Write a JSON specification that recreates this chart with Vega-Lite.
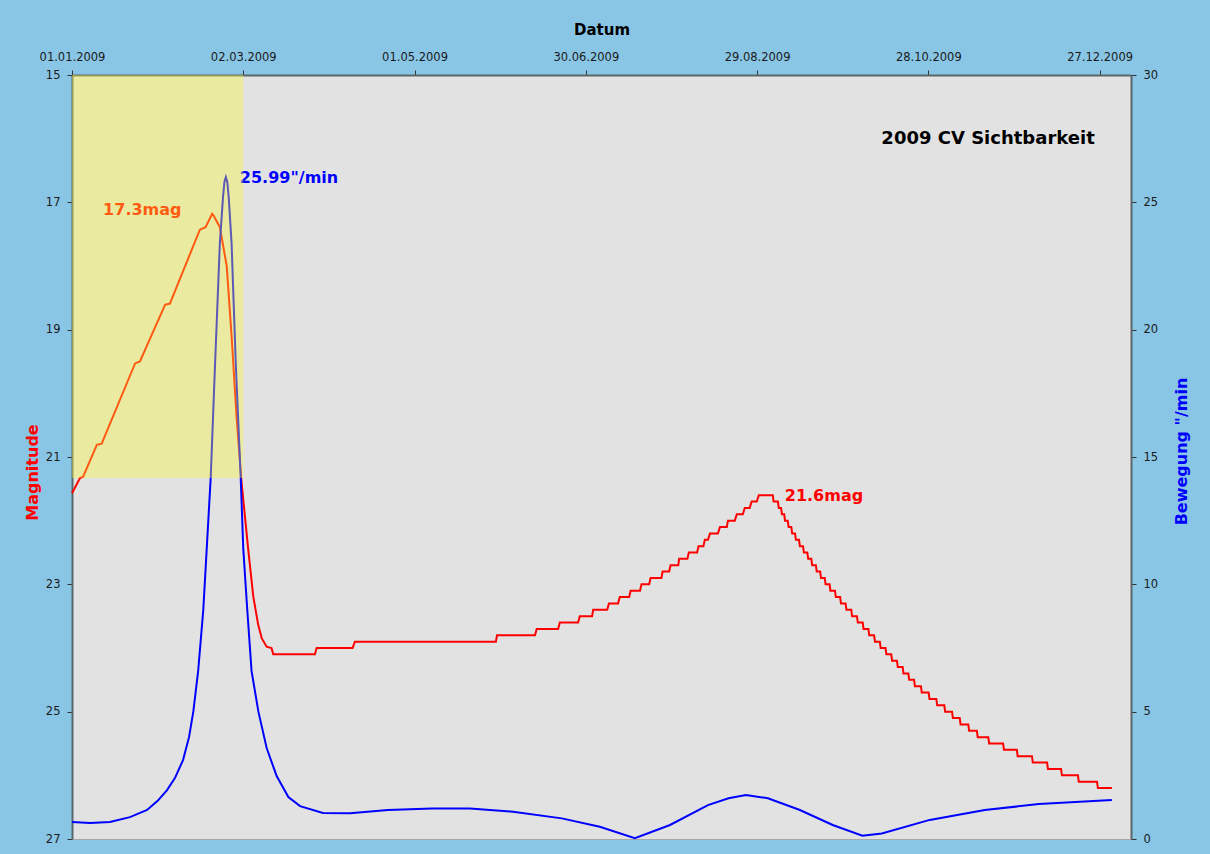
{
  "$schema": "https://vega.github.io/schema/vega-lite/v6.json",
  "width": 1059,
  "height": 764,
  "autosize": {"type": "none"},
  "padding": {"left": 72, "top": 75, "right": 79, "bottom": 15},
  "background": "#89c6e5",
  "config": {
    "view": {"fill": "#e2e2e2", "stroke": "#a8a8a8", "strokeWidth": 1},
    "axis": {
      "grid": false,
      "domainColor": "#5a666b",
      "domainWidth": 2,
      "tickColor": "#333333",
      "tickSize": 5,
      "labelColor": "#1a1a1a",
      "labelFont": "DejaVu Sans",
      "labelFontSize": 11.5,
      "titleFont": "DejaVu Sans",
      "titleFontWeight": "bold"
    }
  },
  "datasets": {
    "mag": [
      {"day": 0, "mag": 21.57}, {"day": 2.8, "mag": 21.33}, {"day": 3.9, "mag": 21.31},
      {"day": 8.7, "mag": 20.81}, {"day": 10.4, "mag": 20.79}, {"day": 22.1, "mag": 19.53},
      {"day": 23.8, "mag": 19.5}, {"day": 32.6, "mag": 18.61}, {"day": 34.3, "mag": 18.59},
      {"day": 44.8, "mag": 17.43}, {"day": 46.8, "mag": 17.39}, {"day": 49.1, "mag": 17.18},
      {"day": 49.5, "mag": 17.2}, {"day": 51.8, "mag": 17.39}, {"day": 54.2, "mag": 18.0},
      {"day": 55.9, "mag": 19.09}, {"day": 57.7, "mag": 20.4}, {"day": 59.4, "mag": 21.4},
      {"day": 60.0, "mag": 21.67}, {"day": 61.75, "mag": 22.46}, {"day": 63.5, "mag": 23.19},
      {"day": 65.25, "mag": 23.64}, {"day": 66.5, "mag": 23.85}, {"day": 68.2, "mag": 23.98},
      {"day": 69.9, "mag": 24.0}, {"day": 70.5, "mag": 24.1},
      {"day": 85.1, "mag": 24.1}, {"day": 85.7, "mag": 24.0}, {"day": 98.3, "mag": 24.0},
      {"day": 99.1, "mag": 23.9}, {"day": 148.5, "mag": 23.9}, {"day": 148.9, "mag": 23.8},
      {"day": 162.2, "mag": 23.8}, {"day": 162.8, "mag": 23.7}, {"day": 170.3, "mag": 23.7},
      {"day": 170.9, "mag": 23.6}, {"day": 177.3, "mag": 23.6}, {"day": 177.9, "mag": 23.5},
      {"day": 182.2, "mag": 23.5}, {"day": 182.6, "mag": 23.4}, {"day": 187.5, "mag": 23.4},
      {"day": 188.1, "mag": 23.3}, {"day": 191.3, "mag": 23.3}, {"day": 191.9, "mag": 23.2},
      {"day": 195.2, "mag": 23.2}, {"day": 195.7, "mag": 23.1}, {"day": 199.0, "mag": 23.1},
      {"day": 199.5, "mag": 23.0}, {"day": 202.2, "mag": 23.0}, {"day": 202.7, "mag": 22.9},
      {"day": 206.5, "mag": 22.9}, {"day": 206.9, "mag": 22.8}, {"day": 209.2, "mag": 22.8},
      {"day": 209.7, "mag": 22.7}, {"day": 212.4, "mag": 22.7}, {"day": 212.7, "mag": 22.6},
      {"day": 215.6, "mag": 22.6}, {"day": 216.1, "mag": 22.5}, {"day": 219.0, "mag": 22.5},
      {"day": 219.5, "mag": 22.4}, {"day": 221.2, "mag": 22.4}, {"day": 221.7, "mag": 22.3},
      {"day": 222.8, "mag": 22.3}, {"day": 223.5, "mag": 22.2}, {"day": 226.3, "mag": 22.2},
      {"day": 227.0, "mag": 22.1}, {"day": 229.4, "mag": 22.1}, {"day": 229.8, "mag": 22.0},
      {"day": 232.2, "mag": 22.0}, {"day": 232.9, "mag": 21.9}, {"day": 235.0, "mag": 21.9},
      {"day": 235.7, "mag": 21.8}, {"day": 237.4, "mag": 21.8}, {"day": 238.1, "mag": 21.7},
      {"day": 239.9, "mag": 21.7}, {"day": 240.6, "mag": 21.6}, {"day": 245.5, "mag": 21.6},
      {"day": 245.8, "mag": 21.7}, {"day": 247.3, "mag": 21.7}, {"day": 247.6, "mag": 21.8},
      {"day": 248.4, "mag": 21.8}, {"day": 248.7, "mag": 21.9}, {"day": 249.5, "mag": 21.9},
      {"day": 249.8, "mag": 22.0}, {"day": 250.75, "mag": 22.0}, {"day": 251.05, "mag": 22.1},
      {"day": 252.0, "mag": 22.1}, {"day": 252.3, "mag": 22.2}, {"day": 253.3, "mag": 22.2},
      {"day": 253.6, "mag": 22.3}, {"day": 254.7, "mag": 22.3}, {"day": 255.0, "mag": 22.4},
      {"day": 256.1, "mag": 22.4}, {"day": 256.4, "mag": 22.5}, {"day": 257.6, "mag": 22.5},
      {"day": 257.9, "mag": 22.6}, {"day": 259.0, "mag": 22.6}, {"day": 259.3, "mag": 22.7},
      {"day": 260.6, "mag": 22.7}, {"day": 260.9, "mag": 22.8}, {"day": 262.1, "mag": 22.8},
      {"day": 262.4, "mag": 22.9}, {"day": 263.7, "mag": 22.9}, {"day": 264.0, "mag": 23.0},
      {"day": 265.4, "mag": 23.0}, {"day": 265.7, "mag": 23.1}, {"day": 267.3, "mag": 23.1},
      {"day": 267.6, "mag": 23.2}, {"day": 269.1, "mag": 23.2}, {"day": 269.4, "mag": 23.3},
      {"day": 271.0, "mag": 23.3}, {"day": 271.3, "mag": 23.4}, {"day": 273.0, "mag": 23.4},
      {"day": 273.3, "mag": 23.5}, {"day": 275.0, "mag": 23.5}, {"day": 275.3, "mag": 23.6},
      {"day": 277.0, "mag": 23.6}, {"day": 277.3, "mag": 23.7}, {"day": 279.0, "mag": 23.7},
      {"day": 279.3, "mag": 23.8}, {"day": 281.0, "mag": 23.8}, {"day": 281.3, "mag": 23.9},
      {"day": 283.0, "mag": 23.9}, {"day": 283.3, "mag": 24.0}, {"day": 285.0, "mag": 24.0},
      {"day": 285.3, "mag": 24.1}, {"day": 287.0, "mag": 24.1}, {"day": 287.3, "mag": 24.2},
      {"day": 289.0, "mag": 24.2}, {"day": 289.3, "mag": 24.3}, {"day": 291.0, "mag": 24.3},
      {"day": 291.3, "mag": 24.4}, {"day": 293.0, "mag": 24.4}, {"day": 293.3, "mag": 24.5},
      {"day": 295.0, "mag": 24.5}, {"day": 295.3, "mag": 24.6}, {"day": 297.4, "mag": 24.6},
      {"day": 297.7, "mag": 24.7}, {"day": 300.1, "mag": 24.7}, {"day": 300.4, "mag": 24.8},
      {"day": 302.8, "mag": 24.8}, {"day": 303.1, "mag": 24.9}, {"day": 305.6, "mag": 24.9},
      {"day": 305.9, "mag": 25.0}, {"day": 308.3, "mag": 25.0}, {"day": 308.6, "mag": 25.1},
      {"day": 311.0, "mag": 25.1}, {"day": 311.3, "mag": 25.2}, {"day": 314.0, "mag": 25.2},
      {"day": 314.3, "mag": 25.3}, {"day": 317.0, "mag": 25.3}, {"day": 317.3, "mag": 25.4},
      {"day": 321.0, "mag": 25.4}, {"day": 321.3, "mag": 25.5}, {"day": 326.2, "mag": 25.5},
      {"day": 326.5, "mag": 25.6}, {"day": 331.0, "mag": 25.6}, {"day": 331.3, "mag": 25.7},
      {"day": 336.3, "mag": 25.7}, {"day": 336.6, "mag": 25.8}, {"day": 341.6, "mag": 25.8},
      {"day": 341.9, "mag": 25.9}, {"day": 346.5, "mag": 25.9}, {"day": 346.8, "mag": 26.0},
      {"day": 352.4, "mag": 26.0}, {"day": 352.7, "mag": 26.1}, {"day": 359.1, "mag": 26.1},
      {"day": 359.4, "mag": 26.2}, {"day": 364.3, "mag": 26.2}
    ],
    "motion": [
      {"day": 0, "motion": 0.67}, {"day": 6.3, "motion": 0.63}, {"day": 13.3, "motion": 0.67},
      {"day": 20.3, "motion": 0.86}, {"day": 26.3, "motion": 1.14}, {"day": 30, "motion": 1.5},
      {"day": 33.3, "motion": 1.92}, {"day": 36.1, "motion": 2.4}, {"day": 38.9, "motion": 3.1},
      {"day": 41, "motion": 4.0}, {"day": 42.5, "motion": 5.0}, {"day": 44.2, "motion": 6.6},
      {"day": 46.0, "motion": 9.0}, {"day": 47.2, "motion": 11.4}, {"day": 48.6, "motion": 14.2},
      {"day": 50.1, "motion": 18.6}, {"day": 51.8, "motion": 23.4}, {"day": 52.9, "motion": 25.2},
      {"day": 53.4, "motion": 25.8}, {"day": 53.9, "motion": 25.99}, {"day": 54.4, "motion": 25.8},
      {"day": 54.9, "motion": 25.2}, {"day": 55.9, "motion": 23.4}, {"day": 57.4, "motion": 18.6},
      {"day": 59.1, "motion": 14.2}, {"day": 60.0, "motion": 11.4}, {"day": 61.4, "motion": 9.0},
      {"day": 62.9, "motion": 6.6}, {"day": 65.3, "motion": 5.0}, {"day": 68.2, "motion": 3.57},
      {"day": 71.7, "motion": 2.47}, {"day": 75.8, "motion": 1.65}, {"day": 79.9, "motion": 1.29},
      {"day": 87.9, "motion": 1.02}, {"day": 97.4, "motion": 1.01}, {"day": 110.7, "motion": 1.14},
      {"day": 126.1, "motion": 1.2}, {"day": 139.4, "motion": 1.2}, {"day": 154.5, "motion": 1.07},
      {"day": 171.6, "motion": 0.81}, {"day": 184.9, "motion": 0.48}, {"day": 197.2, "motion": 0.03},
      {"day": 209.5, "motion": 0.55}, {"day": 222.8, "motion": 1.33}, {"day": 230, "motion": 1.6},
      {"day": 236.1, "motion": 1.73}, {"day": 243.8, "motion": 1.6}, {"day": 255, "motion": 1.14},
      {"day": 266.5, "motion": 0.55}, {"day": 276.9, "motion": 0.13}, {"day": 283.7, "motion": 0.22},
      {"day": 300.5, "motion": 0.75}, {"day": 319.8, "motion": 1.14}, {"day": 338.7, "motion": 1.37},
      {"day": 364.3, "motion": 1.53}
    ],
    "magLabels": [
      {"day": 10.9, "mag": 17.12, "label": "17.3mag"},
      {"day": 249.7, "mag": 21.62, "label": "21.6mag"}
    ],
    "chartTitle": [
      {"day": 358.3, "mag": 16.0, "label": "2009 CV Sichtbarkeit"}
    ],
    "motionLabels": [
      {"day": 58.8, "motion": 25.94, "label": "25.99\"/min"}
    ],
    "window": [
      {"day": 0, "day2": 60, "mag": 15, "mag2": 21.33}
    ]
  },
  "encoding": {
    "x": {
      "field": "day",
      "type": "quantitative",
      "scale": {"domain": [0, 371], "nice": false, "zero": false},
      "axis": {
        "orient": "top",
        "title": "Datum",
        "titleColor": "#000000",
        "titleFontSize": 15,
        "titleBaseline": "alphabetic",
        "titleY": -41,
        "values": [0, 60, 120, 180, 240, 300, 360],
        "labelExpr": "timeFormat(datetime(2009, 0, 1 + datum.value), '%d.%m.%Y')",
        "labelFlush": false,
        "labelOverlap": false,
        "labelPadding": 8
      }
    }
  },
  "layer": [
    {
      "data": {"name": "mag"},
      "mark": {"type": "line", "color": "#ff0000", "strokeWidth": 2, "interpolate": "linear"},
      "encoding": {
        "y": {
          "field": "mag", "type": "quantitative",
          "scale": {"domain": [15, 27], "reverse": true, "nice": false, "zero": false},
          "axis": {
            "orient": "left",
            "title": "Magnitude",
            "titleColor": "#ff0000",
            "titleFontSize": 16,
            "titleX": -32,
            "titleY": 397,
            "values": [15, 17, 19, 21, 23, 25, 27],
            "labelPadding": 7
          }
        }
      }
    },
    {
      "data": {"name": "magLabels"},
      "mark": {"type": "text", "color": "#ff0000", "font": "DejaVu Sans", "fontWeight": "bold", "fontSize": 16, "align": "left", "baseline": "middle"},
      "encoding": {
        "y": {"field": "mag", "type": "quantitative", "scale": {"domain": [15, 27], "reverse": true, "nice": false, "zero": false}, "axis": null},
        "text": {"field": "label"}
      }
    },
    {
      "data": {"name": "chartTitle"},
      "mark": {"type": "text", "color": "#000000", "font": "DejaVu Sans", "fontWeight": "bold", "fontSize": 18, "align": "right", "baseline": "middle"},
      "encoding": {
        "y": {"field": "mag", "type": "quantitative", "scale": {"domain": [15, 27], "reverse": true, "nice": false, "zero": false}, "axis": null},
        "text": {"field": "label"}
      }
    },
    {
      "data": {"name": "motion"},
      "mark": {"type": "line", "color": "#0000ff", "strokeWidth": 2, "interpolate": "linear"},
      "encoding": {
        "y": {
          "field": "motion", "type": "quantitative",
          "scale": {"domain": [0, 30], "nice": false, "zero": false},
          "axis": {
            "orient": "right",
            "title": "Bewegung \"/min",
            "titleColor": "#0000ff",
            "titleFontSize": 16,
            "titleAngle": 270,
            "titleBaseline": "bottom",
            "titleX": 58,
            "titleY": 376,
            "values": [0, 5, 10, 15, 20, 25, 30],
            "labelPadding": 7
          }
        }
      }
    },
    {
      "data": {"name": "motionLabels"},
      "mark": {"type": "text", "color": "#0000ff", "font": "DejaVu Sans", "fontWeight": "bold", "fontSize": 16, "align": "left", "baseline": "middle"},
      "encoding": {
        "y": {"field": "motion", "type": "quantitative", "scale": {"domain": [0, 30], "nice": false, "zero": false}, "axis": null},
        "text": {"field": "label"}
      }
    },
    {
      "data": {"name": "window"},
      "mark": {"type": "rect", "color": "#fbfa2e", "opacity": 0.36},
      "encoding": {
        "x2": {"field": "day2"},
        "y": {"field": "mag", "type": "quantitative", "scale": {"domain": [15, 27], "reverse": true, "nice": false, "zero": false}, "axis": null},
        "y2": {"field": "mag2"}
      }
    }
  ],
  "resolve": {"scale": {"y": "independent"}, "axis": {"y": "independent"}}
}
